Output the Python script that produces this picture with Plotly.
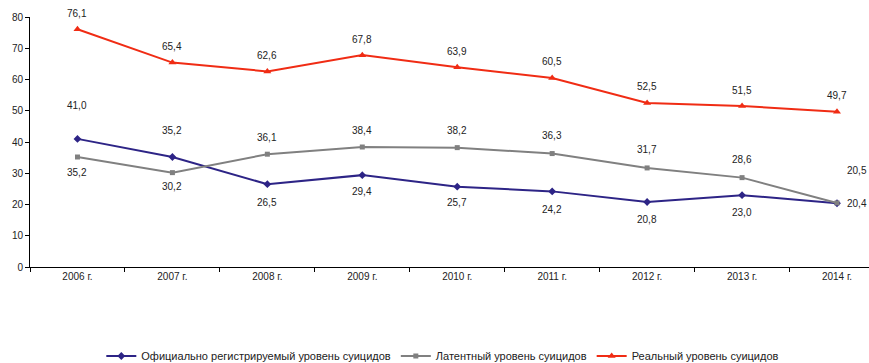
import plotly.graph_objects as go

years = ["2006 г.", "2007 г.", "2008 г.", "2009 г.", "2010 г.",
         "2011 г.", "2012 г.", "2013 г.", "2014 г."]
official = [41.0, 35.2, 26.5, 29.4, 25.7, 24.2, 20.8, 23.0, 20.4]
latent = [35.2, 30.2, 36.1, 38.4, 38.2, 36.3, 31.7, 28.6, 20.5]
real = [76.1, 65.4, 62.6, 67.8, 63.9, 60.5, 52.5, 51.5, 49.7]

names = ["Официально регистрируемый уровень суицидов",
         "Латентный уровень суицидов",
         "Реальный уровень суицидов"]

FONT = "Liberation Sans, Arial, sans-serif"
TXT = "#222222"

fig = go.Figure()

styles = [
    (official, "#2d2486", "diamond", 6),
    (latent, "#808080", "square", 5),
    (real, "#f02c14", "triangle-up", 7),
]
for (vals, color, sym, size), name in zip(styles, names):
    fig.add_scatter(
        x=years, y=vals, name=name, mode="lines+markers",
        line=dict(color=color, width=2),
        marker=dict(symbol=sym, size=size, color=color),
        hoverinfo="skip",
    )

# label offsets (pixels) for each series: (xshift, yshift)
shifts = {
    0: [(0, 33), (0, 27), (0, -18), (0, -16), (0, -16), (0, -18), (0, -17), (0, -17), (20, 0)],
    1: [(0, -15), (0, -14), (0, 17), (0, 17), (0, 17), (0, 18), (0, 18), (0, 18), (20, 32)],
    2: [(0, 16), (0, 16), (0, 16), (0, 16), (0, 16), (0, 16), (0, 16), (0, 16), (0, 16)],
}
for i, vals in enumerate([official, latent, real]):
    for j, (yr, v) in enumerate(zip(years, vals)):
        dx, dy = shifts[i][j]
        fig.add_annotation(
            x=yr, y=v, text=f"{v:.1f}".replace(".", ","),
            showarrow=False, xshift=dx, yshift=dy,
            font=dict(family=FONT, size=10, color=TXT),
        )

fig.update_layout(
    width=869, height=363,
    margin=dict(l=30, r=0, t=17, b=96, autoexpand=False),
    plot_bgcolor="white", paper_bgcolor="white",
    font=dict(family=FONT, size=10, color=TXT),
    showlegend=True,
    legend=dict(
        orientation="h", x=0.085, xanchor="left", y=-0.356, yanchor="middle",
        font=dict(family=FONT, size=11, color=TXT),
        tracegroupgap=0,
    ),
    xaxis=dict(
        type="category", range=[-0.5, 8.337], automargin=False,
        showline=True, linecolor="black", linewidth=1,
        ticks="outside", ticklen=4, tickcolor="black", tickson="boundaries",
        showgrid=False, zeroline=False,
        tickfont=dict(family=FONT, size=10, color=TXT),
    ),
    yaxis=dict(
        range=[0, 80], dtick=10, automargin=False,
        showline=True, linecolor="black", linewidth=1,
        ticks="outside", ticklen=4, tickcolor="black",
        showgrid=False, zeroline=False,
        tickfont=dict(family=FONT, size=10, color=TXT),
    ),
)

fig.write_html("out.html", config={"displayModeBar": False},
               post_script="document.body.style.margin='0';")
